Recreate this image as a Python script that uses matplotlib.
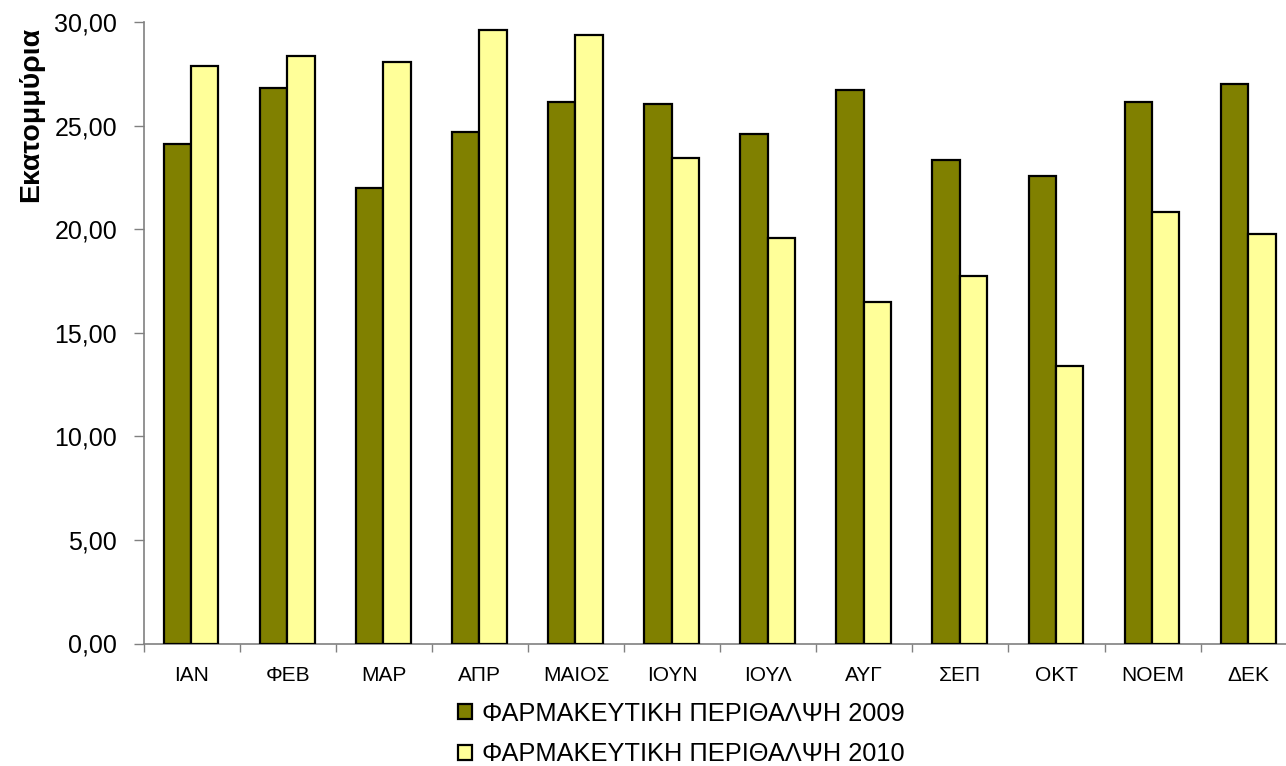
import matplotlib
matplotlib.use("Agg")
import matplotlib.pyplot as plt
import numpy as np
from matplotlib.ticker import FuncFormatter, MultipleLocator
from matplotlib.patches import Patch

plt.rcParams['font.family'] = ['Liberation Sans', 'DejaVu Sans']

months = ["ΙΑΝ", "ΦΕΒ", "ΜΑΡ", "ΑΠΡ", "ΜΑΙΟΣ", "ΙΟΥΝ", "ΙΟΥΛ", "ΑΥΓ", "ΣΕΠ", "ΟΚΤ", "ΝΟΕΜ", "ΔΕΚ"]
values_2009 = [24.10, 26.82, 21.98, 24.69, 26.15, 26.04, 24.59, 26.73, 23.33, 22.56, 26.15, 27.02]
values_2010 = [27.87, 28.35, 28.08, 29.61, 29.35, 23.43, 19.57, 16.48, 17.74, 13.39, 20.83, 19.76]
series_labels = ["ΦΑΡΜΑΚΕΥΤΙΚΗ ΠΕΡΙΘΑΛΨΗ 2009", "ΦΑΡΜΑΚΕΥΤΙΚΗ ΠΕΡΙΘΑΛΨΗ 2010"]
y_label = "Εκατομμύρια"

c2009 = "#808000"
c2010 = "#FFFF99"

W, H = 1286, 766
fig = plt.figure(figsize=(W / 100, H / 100), dpi=100)
left = 143.5 / W
right = 1296.7 / W
bottom = (H - 643.5) / H
top = (H - 22) / H
ax = fig.add_axes([left, bottom, right - left, top - bottom])

x = np.arange(len(months))
bw = 0.285
ax.bar(x - bw / 2 - 0.005, values_2009, width=bw, color=c2009, edgecolor="black", linewidth=1.6, zorder=3)
ax.bar(x + bw / 2 - 0.005, values_2010, width=bw, color=c2010, edgecolor="black", linewidth=1.6, zorder=3)

ax.set_xlim(-0.5, len(months) - 0.5)
ax.set_ylim(0, 30)
ax.yaxis.set_major_locator(MultipleLocator(5))
ax.yaxis.set_major_formatter(FuncFormatter(lambda v, p: f"{v:.2f}".replace(".", ",")))
ax.set_xticks(np.arange(len(months) + 1) - 0.5)
ax.set_xticklabels([])
ax.set_xticks(x, minor=True)
ax.set_xticklabels(months, minor=True)
ax.tick_params(axis="x", which="minor", length=0, pad=16, labelsize=15)
ax.tick_params(axis="x", which="major", length=6, width=1, color="#808080")
ax.tick_params(axis="y", length=7, width=1, color="#808080", pad=12, labelsize=18)

for s in ["top", "right"]:
    ax.spines[s].set_visible(False)
for s in ["left", "bottom"]:
    ax.spines[s].set_color("#808080")
    ax.spines[s].set_linewidth(1.2)

fig.text(31 / W, 1 - 114 / H, y_label, rotation=90, ha="center", va="center",
         fontsize=20.5, fontweight="bold")

handles = [Patch(facecolor=c2009, edgecolor="black", linewidth=1.6),
           Patch(facecolor=c2010, edgecolor="black", linewidth=1.6)]
fig.legend(handles, series_labels, loc="center", bbox_to_anchor=(681 / W, 1 - 734 / H),
           frameon=False, fontsize=18.3, handlelength=0.55, handleheight=0.55,
           handletextpad=0.4, labelspacing=0.65, borderpad=0)

fig.savefig("out.png", dpi=100)
